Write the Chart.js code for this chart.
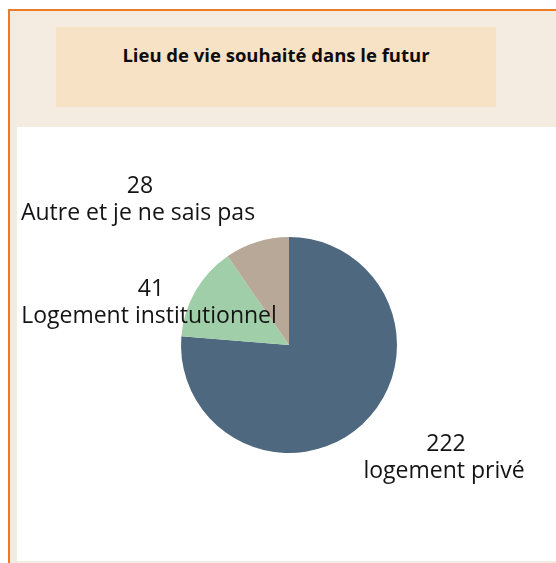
<!DOCTYPE html>
<html>
<head>
<meta charset="utf-8">
<script src="https://cdn.jsdelivr.net/npm/chart.js@4"></script>
<style>
  body { margin: 0; background: #ffffff; width: 556px; height: 563px; overflow: hidden; position: relative; }
  #frame { position: absolute; left: 8px; top: 9px; width: 560px; height: 570px;
           border-left: 2px solid #ee7a25; border-top: 2px solid #ee7a25; background: #f5ece1; }
  #titlebox { position: absolute; left: 56px; top: 27px; width: 440px; height: 80px; background: #f8e2c5; }
  #titlebox div { text-align: center; font: bold 18.5px "Open Sans", sans-serif; color: #0d0d0d; margin-top: 15px; }
  #panel { position: absolute; left: 17px; top: 127px; width: 539px; height: 434px; background: #ffffff; }
</style>
</head>
<body>
<div id="frame"></div>
<div id="titlebox"><div>Lieu de vie souhaité dans le futur</div></div>
<div id="panel"><canvas id="pieChart" width="539" height="434"></canvas></div>
<script>
// data
var categories = ['logement privé', 'Logement institutionnel', 'Autre et je ne sais pas'];
var counts = [222, 41, 28];
var sliceColors = ['#4e6880', '#a0cea8', '#b8a897'];

// where each label sits relative to the pie center (x, baseline of name)
var labelOffsets = [[155, 133], [-140, -22], [-151, -125]];

var sliceLabels = {
    id: 'sliceLabels',
    afterDatasetsDraw: function (chart) {
        var ctx = chart.ctx;
        var arcs = chart.getDatasetMeta(0).data;
        ctx.save();
        ctx.fillStyle = '#141414';
        ctx.textAlign = 'center';
        ctx.textBaseline = 'alphabetic';
        ctx.font = '23px "Open Sans", sans-serif';
        arcs.forEach(function (arc, i) {
            var x = arc.x + labelOffsets[i][0];
            var y = arc.y + labelOffsets[i][1];
            ctx.fillText(String(counts[i]), x + 2, y - 27);
            ctx.fillText(categories[i], x, y);
        });
        ctx.restore();
    }
};

var ctx = document.getElementById('pieChart').getContext('2d');
var myChart = new Chart(ctx, {
    type: 'pie',
    data: {
        labels: categories,
        datasets: [{
            data: counts,
            backgroundColor: sliceColors,
            borderWidth: 0
        }]
    },
    options: {
        responsive: false,
        animation: false,
        layout: { padding: { left: 164, right: 159, top: 110, bottom: 108 } },
        plugins: {
            legend: { display: false },
            tooltip: { enabled: false }
        }
    },
    plugins: [sliceLabels]
});
</script>
</body>
</html>
